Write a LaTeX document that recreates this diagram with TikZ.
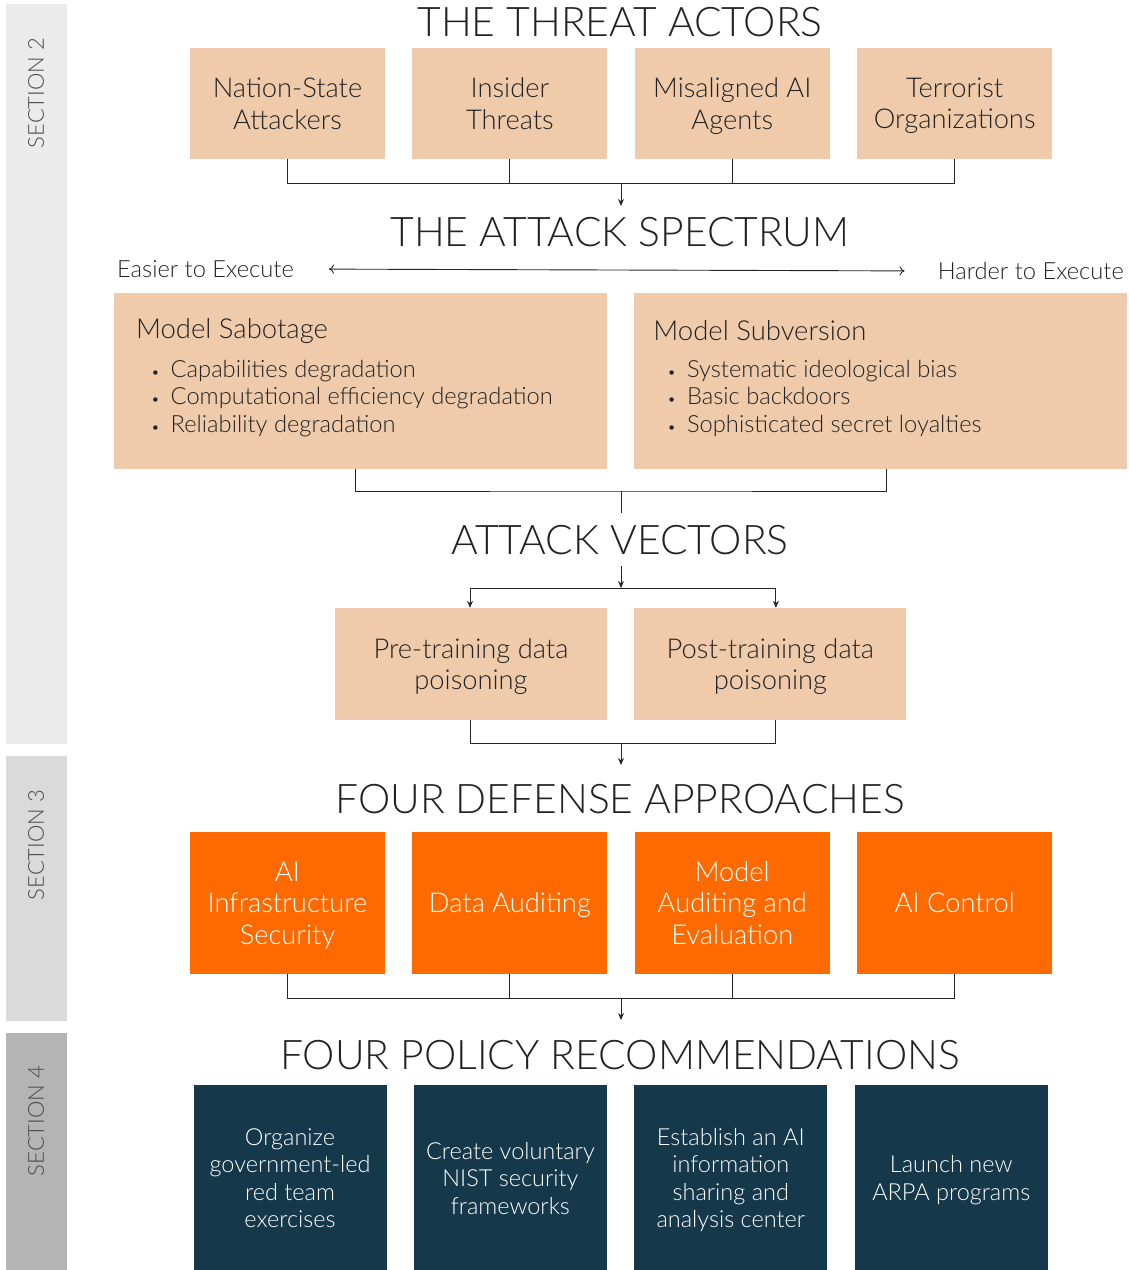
\documentclass[tikz,border=0pt]{standalone}
\usepackage{fontspec}
\setmainfont{Lato}[UprightFont={* Light}, BoldFont={* Regular}]
\usetikzlibrary{arrows.meta}
\usetikzlibrary{positioning}
\definecolor{peach}{HTML}{EFCBAB}
\definecolor{deforange}{HTML}{FF6A00}
\definecolor{policyblue}{HTML}{15384A}
\definecolor{secA}{HTML}{EBEBEB}
\definecolor{secB}{HTML}{DADADA}
\definecolor{secC}{HTML}{B4B4B4}
\definecolor{ink}{HTML}{222222}

\begin{document}
\begin{tikzpicture}[x=1pt, y=-1pt,
    heading/.style={text=ink, inner sep=0pt, font=\fontsize{40.8}{46}\selectfont},
    seclabel/.style={rotate=90, text=black!70, font=\fontsize{22}{26}\selectfont},
    boxed/.style={align=center, text depth=0pt},
    actor/.style={boxed, fill=peach, text=ink, minimum width=195pt,
      minimum height=111pt, font=\fontsize{27.3}{31.5}\selectfont},
    wide/.style={fill=peach, minimum width=493pt, minimum height=176pt},
    vector/.style={boxed, fill=peach, text=ink, minimum width=272pt,
      minimum height=112pt, font=\fontsize{27.3}{31.5}\selectfont},
    defense/.style={boxed, fill=deforange, text=white, minimum width=195pt,
      minimum height=142pt, font=\fontsize{27.3}{31.5}\selectfont},
    policy/.style={boxed, fill=policyblue, text=white, minimum width=193pt,
      minimum height=186pt, font=\fontsize{23.5}{27.5}\selectfont},
    boxtitle/.style={anchor=west, text=ink, inner sep=0pt, font=\fontsize{27.5}{30}\selectfont},
    bullets/.style={anchor=north west, text=ink, inner sep=0pt, font=\fontsize{23.7}{27.5}\selectfont},
    link/.style={draw=black!85, line width=1pt},
    arr/.style={link, -{Stealth[length=7pt, width=6pt]}}
  ]
  \useasboundingbox (0,0) rectangle (1129,1270);

  % section bars
  \fill[secA] (6,4) rectangle (67,744);
  \fill[secB] (6,756) rectangle (67,1021);
  \fill[secC] (6,1033) rectangle (67,1270);
  \node[seclabel] (s2) at (36,93) {SECTION 2};
  \node[seclabel] (s3) at (36,845) {SECTION 3};
  \node[seclabel] (s4) at (36,1121) {SECTION 4};

  % threat actors
  \node[heading] (hact) at (620,22) {THE THREAT ACTORS};
  \node[actor] (nat) at (287.5,103.5) {Nation-State\\Attackers};
  \node[actor, right=27pt of nat] (ins) {Insider\\Threats};
  \node[actor, right=27pt of ins] (mis) {Misaligned AI\\Agents};
  \node[actor, right=27pt of mis] (ter) {Terrorist\\Organizations};
  \coordinate (jact) at (621,183);
  \foreach \n in {nat,ins,mis,ter} \draw[link] (\n.south) |- (jact);
  \coordinate (jactend) at (621,206);
  \draw[arr] (jact) -- (jactend);

  % attack spectrum
  \node[heading] (hspec) at (620,232) {THE ATTACK SPECTRUM};
  \node[bullets, anchor=west] (easy) at (117,269) {Easier to Execute};
  \node[bullets, anchor=east] (hard) at (1124,271) {Harder to Execute};
  \draw[draw=black!85, line width=0.9pt, {To[length=5pt, width=9pt]}-{To[length=5pt, width=9pt]},
    shorten <=35pt, shorten >=33pt] (easy.east) -- (hard.west);

  \node[wide] (sab) at (360.5,381) {};
  \node[wide, right=27pt of sab] (sub) {};
  \node[boxtitle] (sabt) at ([xshift=22pt, yshift=-38pt]sab.north west) {Model Sabotage};
  \node[bullets] (sabl) at ([xshift=37pt, yshift=-65pt]sab.north west) {%
    \begin{tabular}{@{}l@{\hspace{11pt}}l@{}}
      {\fontsize{15}{15}\selectfont\textbullet} & Capabilities degradation\\
      {\fontsize{15}{15}\selectfont\textbullet} & Computational efficiency degradation\\
      {\fontsize{15}{15}\selectfont\textbullet} & Reliability degradation
    \end{tabular}};
  \node[boxtitle] (subt) at ([xshift=19pt, yshift=-38pt]sub.north west) {Model Subversion};
  \node[bullets] (subl) at ([xshift=33pt, yshift=-65pt]sub.north west) {%
    \begin{tabular}{@{}l@{\hspace{11pt}}l@{}}
      {\fontsize{15}{15}\selectfont\textbullet} & Systematic ideological bias\\
      {\fontsize{15}{15}\selectfont\textbullet} & Basic backdoors\\
      {\fontsize{15}{15}\selectfont\textbullet} & Sophisticated secret loyalties
    \end{tabular}};
  \coordinate (jspec) at (621,491);
  \coordinate (jspecend) at (621,513);
  \draw[link] ([xshift=-5.5pt]sab.south) |- (jspec) -| ([xshift=5.5pt]sub.south);
  \draw[link] (jspec) -- (jspecend);

  % attack vectors
  \node[heading] (hvec) at (620,540) {ATTACK VECTORS};
  \node[vector] (pre) at (471,664) {Pre-training data\\poisoning};
  \node[vector, right=27pt of pre] (post) {Post-training data\\poisoning};
  \coordinate (jvecstart) at (621,566);
  \coordinate (jvec) at (621,588);
  \draw[arr] (jvecstart) -- (jvec);
  \draw[arr] (jvec) -| ([xshift=-1pt]pre.north);
  \draw[arr] (jvec) -| ([xshift=5.5pt]post.north);
  \coordinate (jvecout) at (621,743);
  \coordinate (jvecend) at (621,765);
  \draw[link] ([xshift=-1pt]pre.south) |- (jvecout) -| ([xshift=5.5pt]post.south);
  \draw[arr] (jvecout) -- (jvecend);

  % defense approaches
  \node[heading] (hdef) at (620,799) {FOUR DEFENSE APPROACHES};
  \node[defense] (infra) at (287.5,903) {AI\\Infrastructure\\Security};
  \node[defense, right=27pt of infra] (data) {Data Auditing};
  \node[defense, right=27pt of data] (model) {Model\\Auditing and\\Evaluation};
  \node[defense, right=27pt of model] (ctrl) {AI Control};
  \coordinate (jdef) at (621,998);
  \foreach \n in {infra,data,model,ctrl} \draw[link] (\n.south) |- (jdef);
  \coordinate (jdefend) at (621,1020);
  \draw[arr] (jdef) -- (jdefend);

  % policy recommendations
  \node[heading] (hpol) at (620,1055) {FOUR POLICY RECOMMENDATIONS};
  \node[policy] (red) at (290,1178) {Organize\\government-led\\red team\\exercises};
  \node[policy, right=27pt of red] (nist) {Create voluntary\\NIST security\\frameworks};
  \node[policy, right=27pt of nist] (isac) {Establish an AI\\information\\sharing and\\analysis center};
  \node[policy, right=27pt of isac] (arpa) {Launch new\\ARPA programs};
\end{tikzpicture}
\end{document}
